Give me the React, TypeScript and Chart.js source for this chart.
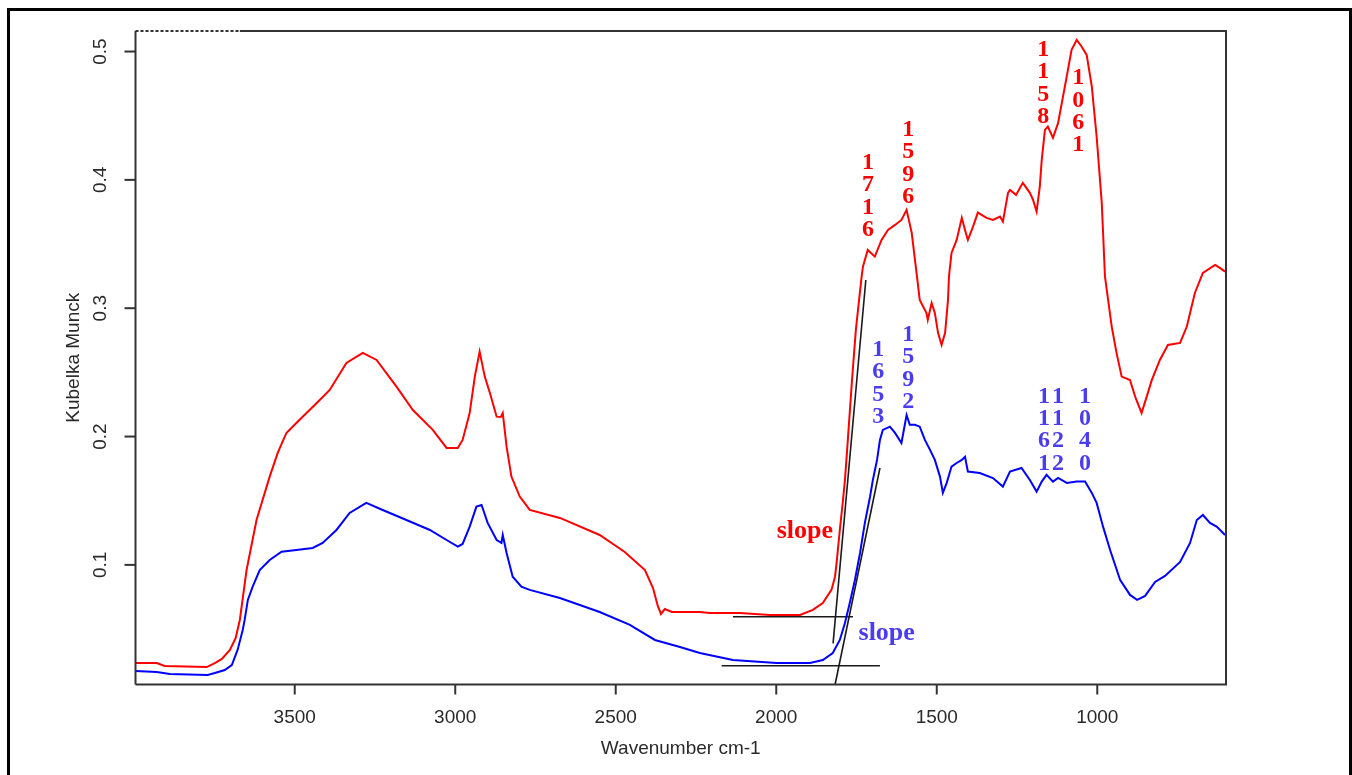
import React, { useEffect, useRef } from 'react';
import Chart from 'chart.js/auto';

// ---- axis ticks ----
const xTickValues = [3500, 3000, 2500, 2000, 1500, 1000];
const xTickLabels = ['3500', '3000', '2500', '2000', '1500', '1000'];
const yTickValues = [0.1, 0.2, 0.3, 0.4, 0.5];
const yTickLabels = ['0.1', '0.2', '0.3', '0.4', '0.5'];
const xTitle = 'Wavenumber cm-1';
const yTitle = 'Kubelka Munck';

// ---- red spectrum ----
const redWavenumber = [3995, 3930, 3905, 3774, 3749, 3727, 3702, 3684, 3671, 3650, 3619, 3578, 3553, 3526, 3495, 3422, 3391, 3339, 3288, 3245, 3183, 3132, 3070, 3027, 2992, 2977, 2955, 2939, 2924, 2908, 2892, 2871, 2858, 2852, 2840, 2825, 2799, 2768, 2674, 2550, 2472, 2409, 2384, 2369, 2359, 2347, 2325, 2238, 2207, 2113, 2020, 1926, 1886, 1855, 1828, 1817, 1812, 1802, 1792, 1786, 1777, 1764, 1752, 1742, 1734, 1730, 1715, 1693, 1672, 1652, 1630, 1610, 1594, 1578, 1563, 1553, 1532, 1528, 1516, 1506, 1496, 1485, 1474, 1465, 1462, 1454, 1438, 1422, 1412, 1403, 1387, 1372, 1345, 1325, 1303, 1294, 1278, 1272, 1253, 1232, 1210, 1200, 1189, 1179, 1173, 1163, 1154, 1138, 1122, 1101, 1080, 1064, 1049, 1033, 1017, 1002, 986, 976, 955, 940, 924, 898, 882, 862, 846, 830, 805, 780, 742, 721, 696, 671, 633, 618, 602];
const redKM = [0.0235, 0.0235, 0.0212, 0.0204, 0.0235, 0.0267, 0.0337, 0.043, 0.0571, 0.096, 0.135, 0.1688, 0.1872, 0.2028, 0.2106, 0.2285, 0.2363, 0.2574, 0.2652, 0.2597, 0.2389, 0.2207, 0.2052, 0.1911, 0.1911, 0.1974, 0.2184, 0.2467, 0.2662, 0.2467, 0.234, 0.2155, 0.2153, 0.2184, 0.1921, 0.1688, 0.1532, 0.1428, 0.1366, 0.1233, 0.1101, 0.096, 0.082, 0.068, 0.0618, 0.0656, 0.0633, 0.0633, 0.0625, 0.0625, 0.061, 0.061, 0.0649, 0.0703, 0.0805, 0.0908, 0.1015, 0.1272, 0.1506, 0.1662, 0.1974, 0.2441, 0.2831, 0.3065, 0.3246, 0.3324, 0.3454, 0.3402, 0.3532, 0.361, 0.3649, 0.3688, 0.3766, 0.3587, 0.3275, 0.3065, 0.2963, 0.2909, 0.3041, 0.2963, 0.2808, 0.2714, 0.2808, 0.3065, 0.3246, 0.3431, 0.3532, 0.3704, 0.361, 0.3532, 0.3636, 0.3745, 0.3704, 0.3688, 0.3714, 0.3675, 0.3899, 0.3922, 0.3883, 0.3977, 0.3899, 0.3844, 0.3753, 0.3948, 0.4156, 0.439, 0.4415, 0.4327, 0.4444, 0.4727, 0.5013, 0.5091, 0.5039, 0.4974, 0.4727, 0.4338, 0.3821, 0.3246, 0.2857, 0.2652, 0.2467, 0.2441, 0.2311, 0.2184, 0.2311, 0.2441, 0.2597, 0.2714, 0.273, 0.2857, 0.3119, 0.3275, 0.3338, 0.3314, 0.3285];

// ---- blue spectrum ----
const blueWavenumber = [3995, 3930, 3889, 3771, 3749, 3718, 3696, 3678, 3662, 3656, 3646, 3631, 3609, 3578, 3541, 3495, 3444, 3413, 3370, 3329, 3277, 3226, 3152, 3079, 3027, 2992, 2977, 2955, 2934, 2918, 2899, 2871, 2856, 2852, 2840, 2821, 2794, 2768, 2674, 2550, 2456, 2378, 2300, 2238, 2135, 1999, 1895, 1855, 1824, 1802, 1786, 1771, 1755, 1739, 1724, 1708, 1699, 1686, 1677, 1668, 1646, 1630, 1610, 1594, 1584, 1568, 1553, 1537, 1521, 1506, 1490, 1481, 1469, 1454, 1438, 1422, 1412, 1403, 1366, 1325, 1294, 1272, 1236, 1210, 1189, 1173, 1158, 1138, 1122, 1095, 1064, 1038, 1017, 1002, 982, 960, 929, 898, 876, 851, 820, 789, 742, 711, 690, 671, 649, 628, 602];
const blueKM = [0.0173, 0.0165, 0.015, 0.0142, 0.0157, 0.0181, 0.022, 0.0337, 0.0493, 0.0571, 0.0727, 0.083, 0.096, 0.1038, 0.1103, 0.1116, 0.1132, 0.1171, 0.1272, 0.1405, 0.1483, 0.1428, 0.135, 0.1272, 0.1194, 0.1142, 0.1163, 0.1298, 0.1454, 0.1467, 0.1327, 0.1194, 0.1171, 0.1233, 0.1093, 0.0908, 0.083, 0.0805, 0.0742, 0.0633, 0.0532, 0.0415, 0.036, 0.0313, 0.0259, 0.0236, 0.0236, 0.0259, 0.0313, 0.0415, 0.0547, 0.0703, 0.0882, 0.1093, 0.1327, 0.1529, 0.1662, 0.1818, 0.1974, 0.2052, 0.2077, 0.2028, 0.195, 0.2168, 0.2091, 0.2091, 0.2077, 0.1974, 0.1896, 0.1818, 0.1688, 0.1561, 0.1639, 0.1766, 0.1794, 0.1818, 0.1843, 0.1727, 0.1716, 0.1677, 0.161, 0.1727, 0.1755, 0.1662, 0.1571, 0.1649, 0.1701, 0.1649, 0.1677, 0.1639, 0.1649, 0.1649, 0.1561, 0.1483, 0.1298, 0.1116, 0.0883, 0.0766, 0.0727, 0.0758, 0.0867, 0.0914, 0.1023, 0.1171, 0.135, 0.1389, 0.1327, 0.1298, 0.1233];

// ---- tangent (slope) construction lines ----
const redSlopeX = [1823, 1721];
const redSlopeY = [0.0389, 0.322];
const redBaseX = [2135, 1761];
const redBaseY = [0.0596, 0.0596];
const blueSlopeX = [1817, 1677];
const blueSlopeY = [0.0064, 0.1755];
const blueBaseX = [2170, 1677];
const blueBaseY = [0.0214, 0.0214];

// ---- annotations ----
const redPeakLabels = ['1716', '1596', '1158', '1061'];
const redPeakX = [1714, 1589, 1168, 1059];
const redPeakY = [0.4133, 0.439, 0.5013, 0.4793];
const bluePeakLabels = ['1653', '1592', '1161', '1122', '1040'];
const bluePeakX = [1682, 1589, 1166, 1122, 1038];
const bluePeakY = [0.2675, 0.2792, 0.2311, 0.2311, 0.2311];
const slopeLabels = ['slope', 'slope'];
const slopeX = [1911, 1656];
const slopeY = [0.1259, 0.0467];

const RED = '#ff0000';
const BLUE = '#0000ff';
const LABEL_BLUE = '#4b3cf0';
const AXIS_COLOR = '#333333';

const zip = (xs: number[], ys: number[]) => xs.map((x, i) => ({ x, y: ys[i] }));

export default function App() {
  const ref = useRef<HTMLCanvasElement | null>(null);

  useEffect(() => {
    document.body.style.margin = '0';
    const canvas = ref.current;
    if (!canvas) return;

    const framePlugin = {
      id: 'framePlugin',
      beforeDraw(chart: any) {
        const ctx = chart.ctx;
        ctx.save();
        ctx.fillStyle = '#ffffff';
        ctx.fillRect(0, 0, chart.width, chart.height);
        ctx.strokeStyle = '#000000';
        ctx.lineWidth = 3;
        ctx.strokeRect(8.5, 9.5, chart.width - 10, chart.height + 20);
        ctx.restore();
      },
      afterDraw(chart: any) {
        const ctx = chart.ctx;
        const xs = chart.scales.x;
        const ys = chart.scales.y;
        const { left, right, top, bottom } = chart.chartArea;
        ctx.save();
        // plot box
        ctx.strokeStyle = AXIS_COLOR;
        ctx.lineWidth = 2;
        const dotEnd = xs.getPixelForValue(3671);
        ctx.beginPath();
        ctx.moveTo(left, bottom);
        ctx.lineTo(right, bottom);
        ctx.lineTo(right, top);
        ctx.lineTo(dotEnd, top);
        ctx.moveTo(left, top);
        ctx.lineTo(left, bottom);
        ctx.stroke();
        ctx.setLineDash([3, 2]);
        ctx.beginPath();
        ctx.moveTo(left, top);
        ctx.lineTo(dotEnd, top);
        ctx.stroke();
        ctx.setLineDash([]);

        // ticks
        ctx.fillStyle = '#2a2a2a';
        ctx.font = '19px "Liberation Sans", Arial, sans-serif';
        ctx.textAlign = 'center';
        ctx.textBaseline = 'middle';
        xTickValues.forEach((v, i) => {
          const px = xs.getPixelForValue(v);
          ctx.beginPath();
          ctx.moveTo(px, bottom);
          ctx.lineTo(px, bottom + 10);
          ctx.stroke();
          ctx.fillText(xTickLabels[i], px, bottom + 33);
        });
        yTickValues.forEach((v, i) => {
          const py = ys.getPixelForValue(v);
          ctx.beginPath();
          ctx.moveTo(left, py);
          ctx.lineTo(left - 11, py);
          ctx.stroke();
          ctx.save();
          ctx.translate(left - 35, py);
          ctx.rotate(-Math.PI / 2);
          ctx.fillText(yTickLabels[i], 0, 0);
          ctx.restore();
        });
        // titles
        ctx.fillText(xTitle, (left + right) / 2, bottom + 64);
        ctx.save();
        ctx.translate(left - 62, (top + bottom) / 2);
        ctx.rotate(-Math.PI / 2);
        ctx.fillText(yTitle, 0, 0);
        ctx.restore();

        // peak labels (vertical digit stacks)
        ctx.font = 'bold 24px "Liberation Serif", "Times New Roman", serif';
        const stack = (txt: string, x: number, y: number, color: string) => {
          ctx.fillStyle = color;
          const px = xs.getPixelForValue(x);
          const py = ys.getPixelForValue(y);
          txt.split('').forEach((ch, k) => ctx.fillText(ch, px, py + k * 22.3));
        };
        redPeakLabels.forEach((t, i) => stack(t, redPeakX[i], redPeakY[i], RED));
        bluePeakLabels.forEach((t, i) => stack(t, bluePeakX[i], bluePeakY[i], LABEL_BLUE));
        ctx.font = 'bold 26px "Liberation Serif", "Times New Roman", serif';
        slopeLabels.forEach((t, i) => {
          ctx.fillStyle = i === 0 ? RED : LABEL_BLUE;
          ctx.fillText(t, xs.getPixelForValue(slopeX[i]), ys.getPixelForValue(slopeY[i]));
        });
        ctx.restore();
      },
    };

    const lineDs = (label: string, xs: number[], ys: number[], color: string, width: number) => ({
      label,
      data: zip(xs, ys),
      borderColor: color,
      backgroundColor: color,
      borderWidth: width,
      pointRadius: 0,
      fill: false,
      tension: 0,
    });

    const chart = new Chart(canvas, {
      type: 'line',
      data: {
        datasets: [
          lineDs('red', redWavenumber, redKM, RED, 2),
          lineDs('blue', blueWavenumber, blueKM, BLUE, 2),
          lineDs('red slope', redSlopeX, redSlopeY, '#1a1a1a', 1.6),
          lineDs('red base', redBaseX, redBaseY, '#1a1a1a', 1.6),
          lineDs('blue slope', blueSlopeX, blueSlopeY, '#1a1a1a', 1.6),
          lineDs('blue base', blueBaseX, blueBaseY, '#1a1a1a', 1.6),
        ],
      },
      options: {
        responsive: false,
        animation: false,
        devicePixelRatio: 1,
        layout: { padding: { left: 135.5, top: 31, right: 126, bottom: 90.5 } },
        plugins: { legend: { display: false }, tooltip: { enabled: false } },
        scales: {
          x: { type: 'linear', reverse: true, min: 599, max: 3996, display: false },
          y: { type: 'linear', min: 0.0068, max: 0.516, display: false },
        },
      },
      plugins: [framePlugin],
    });
    return () => chart.destroy();
  }, []);

  return (
    <div style={{ width: 1352, height: 775 }}>
      <canvas ref={ref} width={1352} height={775} style={{ display: 'block' }} />
    </div>
  );
}
